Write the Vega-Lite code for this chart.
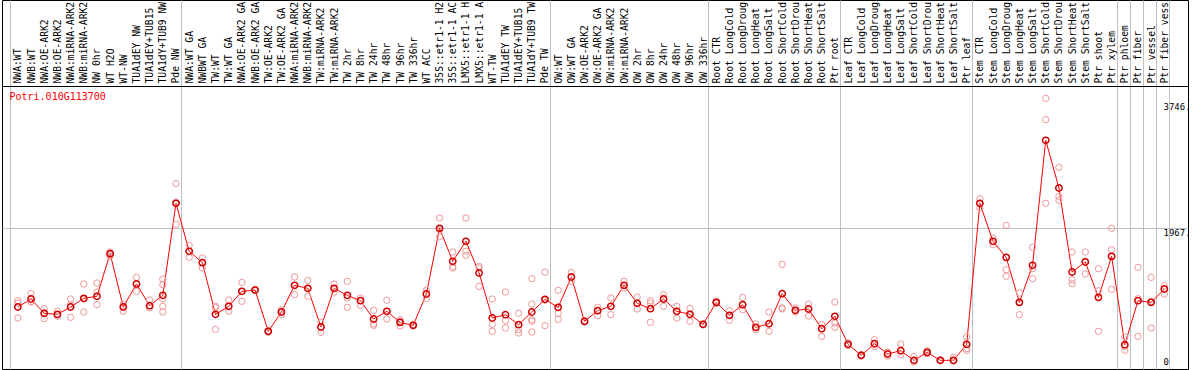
{
  "$schema": "https://vega.github.io/schema/vega-lite/v6.json",
  "width": 1186,
  "height": 369,
  "autosize": {"type": "none"},
  "padding": {"left": 2, "top": 0, "right": 6, "bottom": 1},
  "background": "white",
  "config": {"view": {"stroke": "black", "strokeWidth": 1}, "font": "DejaVu Sans Mono"},
  "datasets": {
    "d": [
      {"i": 0, "s": "NWA:WT", "m": 849, "r": [939, 906, 693]},
      {"i": 1, "s": "NWB:WT", "m": 963, "r": [1040, 930, 920]},
      {"i": 2, "s": "NWA:OE-ARK2", "m": 759, "r": [826, 684, 767]},
      {"i": 3, "s": "NWB:OE-ARK2", "m": 745, "r": [788, 740, 717]},
      {"i": 4, "s": "NWA:miRNA-ARK2", "m": 849, "r": [963, 703, 880]},
      {"i": 5, "s": "NWB:miRNA-ARK2", "m": 972, "r": [1176, 778, 962]},
      {"i": 6, "s": "NW 0hr", "m": 1001, "r": [1190, 1062, 884]},
      {"i": 7, "s": "WT H2O", "m": 1606, "r": [1630, 1592, 1568]},
      {"i": 8, "s": "WT-NW", "m": 849, "r": [892, 849, 788]},
      {"i": 9, "s": "TUA1dEY NW", "m": 1176, "r": [1270, 1176, 1072]},
      {"i": 10, "s": "TUA1dEY+TUB15 NW", "m": 868, "r": [949, 835, 868]},
      {"i": 11, "s": "TUA1dY+TUB9 NW", "m": 1015, "r": [1246, 1166, 963, 859, 778]},
      {"i": 12, "s": "Pde NW", "m": 2321, "r": [2601, 2339, 2023]},
      {"i": 13, "s": "NWA:WT GA", "m": 1640, "r": [1725, 1640, 1555]},
      {"i": 14, "s": "NWBWT GA", "m": 1479, "r": [1545, 1479, 1403]},
      {"i": 15, "s": "TW:WT", "m": 745, "r": [859, 840, 532]},
      {"i": 16, "s": "TW:WT GA", "m": 859, "r": [949, 788, 859]},
      {"i": 17, "s": "NWA:OE-ARK2 GA", "m": 1072, "r": [1199, 1072, 930]},
      {"i": 18, "s": "NWB:OE-ARK2 GA", "m": 1090, "r": [1100, 1090, 1080]},
      {"i": 19, "s": "TW:OE-ARK2", "m": 504, "r": [518, 504, 490]},
      {"i": 20, "s": "TW:OE-ARK2 GA", "m": 778, "r": [811, 778, 740]},
      {"i": 21, "s": "NWA:miRNA-ARK2 GA", "m": 1157, "r": [1275, 1157, 1025]},
      {"i": 22, "s": "NWB:miRNA-ARK2 GA", "m": 1114, "r": [1228, 1114, 1001]},
      {"i": 23, "s": "TW:miRNA-ARK2", "m": 565, "r": [632, 565, 490]},
      {"i": 24, "s": "TW:miRNA-ARK2 GA", "m": 1114, "r": [1176, 1114, 1062]},
      {"i": 25, "s": "TW 2hr", "m": 1015, "r": [1213, 977, 845]},
      {"i": 26, "s": "TW 8hr", "m": 939, "r": [977, 939, 873]},
      {"i": 27, "s": "TW 24hr", "m": 679, "r": [802, 608, 589]},
      {"i": 28, "s": "TW 48hr", "m": 788, "r": [944, 788, 679]},
      {"i": 29, "s": "TW 96hr", "m": 631, "r": [669, 644, 580]},
      {"i": 30, "s": "TW 336hr", "m": 589, "r": [600, 589, 580]},
      {"i": 31, "s": "WT ACC", "m": 1034, "r": [1086, 1034, 968]},
      {"i": 32, "s": "35S::etr1-1 H2O", "m": 1966, "r": [2113, 1940, 1848]},
      {"i": 33, "s": "35S::etr1-1 ACC", "m": 1498, "r": [1630, 1426, 1403]},
      {"i": 34, "s": "LMX5::etr1-1 H2O", "m": 1782, "r": [2113, 1640, 1583]},
      {"i": 35, "s": "LMX5::etr1-1 ACC", "m": 1332, "r": [1426, 1403, 1142]},
      {"i": 36, "s": "WT-TW", "m": 693, "r": [963, 599, 504]},
      {"i": 37, "s": "TUA1dEY TW", "m": 740, "r": [1062, 656, 551]},
      {"i": 38, "s": "TUA1dEY+TUB15 TW", "m": 598, "r": [759, 527, 480]},
      {"i": 39, "s": "TUA1dY+TUB9 TW", "m": 778, "r": [1251, 892, 669, 646, 494]},
      {"i": 40, "s": "Pde TW", "m": 958, "r": [1345, 945, 584]},
      {"i": 41, "s": "OW:WT", "m": 844, "r": [1086, 759, 674]},
      {"i": 42, "s": "OW:WT GA", "m": 1275, "r": [1341, 1275, 1213]},
      {"i": 43, "s": "OW:OE-ARK2", "m": 646, "r": [656, 646, 636]},
      {"i": 44, "s": "OW:OE-ARK2 GA", "m": 797, "r": [845, 797, 726]},
      {"i": 45, "s": "OW:miRNA-ARK2", "m": 859, "r": [977, 859, 740]},
      {"i": 46, "s": "OW:miRNA-ARK2 GA", "m": 1157, "r": [1213, 1157, 1119]},
      {"i": 47, "s": "OW 2hr", "m": 901, "r": [990, 901, 821]},
      {"i": 48, "s": "OW 8hr", "m": 825, "r": [939, 906, 632]},
      {"i": 49, "s": "OW 24hr", "m": 963, "r": [1025, 963, 859]},
      {"i": 50, "s": "OW 48hr", "m": 788, "r": [859, 788, 693]},
      {"i": 51, "s": "OW 96hr", "m": 745, "r": [830, 745, 646]},
      {"i": 52, "s": "OW 336hr", "m": 603, "r": [610, 603, 596]},
      {"i": 53, "s": "Root CTR", "m": 915, "r": [935, 915, 900]},
      {"i": 54, "s": "Root LongCold", "m": 731, "r": [797, 731, 660]},
      {"i": 55, "s": "Root LongDrought", "m": 882, "r": [985, 882, 811]},
      {"i": 56, "s": "Root LongHeat", "m": 560, "r": [608, 560, 527]},
      {"i": 57, "s": "Root LongSalt", "m": 612, "r": [778, 612, 504]},
      {"i": 58, "s": "Root ShortCold", "m": 1038, "r": [1455, 838, 821]},
      {"i": 59, "s": "Root ShortDrought", "m": 802, "r": [835, 802, 778]},
      {"i": 60, "s": "Root ShortHeat", "m": 821, "r": [892, 821, 722]},
      {"i": 61, "s": "Root ShortSalt", "m": 541, "r": [599, 541, 433]},
      {"i": 62, "s": "Ptr root", "m": 717, "r": [920, 622, 560]},
      {"i": 63, "s": "Leaf CTR", "m": 319, "r": [340, 319, 300]},
      {"i": 64, "s": "Leaf LongCold", "m": 163, "r": [175, 163, 150]},
      {"i": 65, "s": "Leaf LongDrought", "m": 328, "r": [385, 328, 290]},
      {"i": 66, "s": "Leaf LongHeat", "m": 182, "r": [210, 182, 150]},
      {"i": 67, "s": "Leaf LongSalt", "m": 229, "r": [324, 229, 173]},
      {"i": 68, "s": "Leaf ShortCold", "m": 92, "r": [144, 92, 68]},
      {"i": 69, "s": "Leaf ShortDrought", "m": 205, "r": [230, 205, 185]},
      {"i": 70, "s": "Leaf ShortHeat", "m": 92, "r": [100, 92, 85]},
      {"i": 71, "s": "Leaf ShortSalt", "m": 92, "r": [135, 92, 80]},
      {"i": 72, "s": "Ptr leaf", "m": 319, "r": [423, 258, 234]},
      {"i": 73, "s": "Stem CTR", "m": 2321, "r": [2387, 2321, 2255]},
      {"i": 74, "s": "Stem LongCold", "m": 1782, "r": [1829, 1782, 1735]},
      {"i": 75, "s": "Stem LongDrought", "m": 1554, "r": [2009, 1380, 1285]},
      {"i": 76, "s": "Stem LongHeat", "m": 915, "r": [1048, 915, 740]},
      {"i": 77, "s": "Stem LongSalt", "m": 1441, "r": [1697, 1394, 1251]},
      {"i": 78, "s": "Stem ShortCold", "m": 3216, "r": [3812, 3509, 2321]},
      {"i": 79, "s": "Stem ShortDrought", "m": 2539, "r": [2831, 2420, 2364]},
      {"i": 80, "s": "Stem ShortHeat", "m": 1346, "r": [1630, 1237, 1180]},
      {"i": 81, "s": "Stem ShortSalt", "m": 1488, "r": [1630, 1498, 1318]},
      {"i": 82, "s": "Ptr shoot", "m": 986, "r": [1394, 1081, 504]},
      {"i": 83, "s": "Ptr xylem", "m": 1568, "r": [1966, 1663, 1100]},
      {"i": 84, "s": "Ptr phloem", "m": 314, "r": [423, 290, 234]},
      {"i": 85, "s": "Ptr fiber", "m": 939, "r": [1412, 968, 433]},
      {"i": 86, "s": "Ptr vessel", "m": 915, "r": [1270, 930, 551]},
      {"i": 87, "s": "Ptr fiber vessel", "m": 1105, "r": [1152, 1105, 1034]}
    ]
  },
  "data": {"name": "d"},
  "encoding": {
    "x": {
      "field": "s",
      "type": "nominal",
      "scale": {
        "type": "point",
        "padding": 1.615,
        "align": 0.102,
        "domain": ["", "NWA:WT", "NWB:WT", "NWA:OE-ARK2", "NWB:OE-ARK2", "NWA:miRNA-ARK2", "NWB:miRNA-ARK2", "NW 0hr", "WT H2O", "WT-NW", "TUA1dEY NW", "TUA1dEY+TUB15 NW", "TUA1dY+TUB9 NW", "Pde NW", "NWA:WT GA", "NWBWT GA", "TW:WT", "TW:WT GA", "NWA:OE-ARK2 GA", "NWB:OE-ARK2 GA", "TW:OE-ARK2", "TW:OE-ARK2 GA", "NWA:miRNA-ARK2 GA", "NWB:miRNA-ARK2 GA", "TW:miRNA-ARK2", "TW:miRNA-ARK2 GA", "TW 2hr", "TW 8hr", "TW 24hr", "TW 48hr", "TW 96hr", "TW 336hr", "WT ACC", "35S::etr1-1 H2O", "35S::etr1-1 ACC", "LMX5::etr1-1 H2O", "LMX5::etr1-1 ACC", "WT-TW", "TUA1dEY TW", "TUA1dEY+TUB15 TW", "TUA1dY+TUB9 TW", "Pde TW", "OW:WT", "OW:WT GA", "OW:OE-ARK2", "OW:OE-ARK2 GA", "OW:miRNA-ARK2", "OW:miRNA-ARK2 GA", "OW 2hr", "OW 8hr", "OW 24hr", "OW 48hr", "OW 96hr", "OW 336hr", "Root CTR", "Root LongCold", "Root LongDrought", "Root LongHeat", "Root LongSalt", "Root ShortCold", "Root ShortDrought", "Root ShortHeat", "Root ShortSalt", "Ptr root", "Leaf CTR", "Leaf LongCold", "Leaf LongDrought", "Leaf LongHeat", "Leaf LongSalt", "Leaf ShortCold", "Leaf ShortDrought", "Leaf ShortHeat", "Leaf ShortSalt", "Ptr leaf", "Stem CTR", "Stem LongCold", "Stem LongDrought", "Stem LongHeat", "Stem LongSalt", "Stem ShortCold", "Stem ShortDrought", "Stem ShortHeat", "Stem ShortSalt", "Ptr shoot", "Ptr xylem", "Ptr phloem", "Ptr fiber", "Ptr vessel", "Ptr fiber vessel"]
      },
      "axis": {
        "orient": "top",
        "offset": -86,
        "title": "Potri.010G113700",
        "titleX": 7,
        "titleY": 10,
        "titleAlign": "left",
        "titleBaseline": "middle",
        "titleAngle": 0,
        "titleColor": "#ff0000",
        "titleFont": "DejaVu Sans Mono",
        "titleFontSize": 10,
        "titleFontWeight": "normal",
        "labelExpr": "substring(datum.label, 0, 14)",
        "labelAngle": 270,
        "labelAlign": "left",
        "labelBaseline": "middle",
        "labelFont": "DejaVu Sans Mono",
        "labelFontSize": 9.7,
        "labelColor": "black",
        "labelPadding": 3,
        "labelOverlap": false,
        "labelLimit": 400,
        "ticks": false,
        "domain": true,
        "domainColor": "black",
        "domainWidth": 1,
        "tickOffset": 5,
        "labelOffset": -5,
        "grid": true,
        "gridColor": "#c0c0c0",
        "gridWidth": 1,
        "gridOpacity": {"condition": {"test": "indexof(['', 'Pde NW', 'Pde TW', 'OW 336hr', 'Ptr root', 'Ptr leaf', 'Ptr xylem', 'Ptr phloem', 'Ptr fiber', 'Ptr vessel', 'Ptr fiber vessel'], datum.value) >= 0", "value": 1}, "value": 0}
      }
    },
    "y": {
      "field": "m",
      "type": "quantitative",
      "scale": {"domain": [-31, 5208], "nice": false, "zero": false},
      "axis": {
        "orient": "right",
        "offset": -25,
        "title": null,
        "values": [0, 1967, 3746],
        "format": "d",
        "labelExpr": "datum.value == 0 ? '0' : datum.label + '.'",
        "domain": false,
        "ticks": false,
        "labelPadding": 0,
        "labelAlign": "left",
        "labelBaseline": {"condition": {"test": "datum.value == 0", "value": "bottom"}, "value": "top"},
        "labelFont": "DejaVu Sans Mono",
        "labelFontSize": 9,
        "labelColor": "black",
        "grid": true,
        "gridColor": "#c0c0c0",
        "gridWidth": 1,
        "gridOpacity": {"condition": {"test": "datum.value == 1967", "value": 1}, "value": 0}
      }
    }
  },
  "layer": [
    {
      "mark": {"type": "line", "color": "#ff0000", "strokeWidth": 1},
      "encoding": {"order": {"field": "i", "type": "quantitative"}}
    },
    {
      "transform": [{"flatten": ["r"]}],
      "mark": {"type": "point", "shape": "circle", "filled": false, "stroke": "#f09898", "strokeWidth": 1, "size": 40, "opacity": 1},
      "encoding": {"y": {"field": "r", "type": "quantitative"}}
    },
    {
      "mark": {"type": "point", "shape": "circle", "filled": false, "stroke": "#d00000", "strokeWidth": 1.5, "size": 40, "opacity": 1},
      "encoding": {}
    }
  ]
}
